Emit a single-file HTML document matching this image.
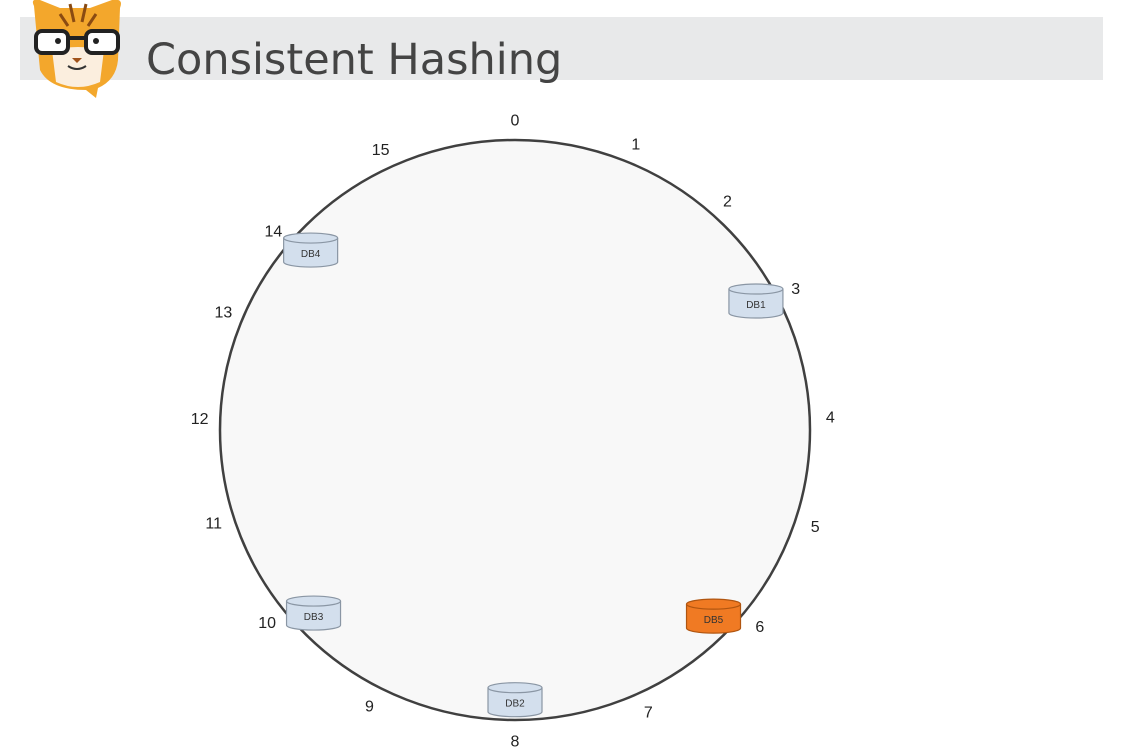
<!DOCTYPE html>
<html><head><meta charset="utf-8"><style>
html,body{margin:0;padding:0;background:#fff;width:1123px;height:755px;overflow:hidden}
</style></head><body>
<svg id="chart" width="1123" height="755" xmlns="http://www.w3.org/2000/svg" font-family="Liberation Sans, sans-serif">
<rect x="20" y="17" width="1083" height="63" fill="#e8e9ea"/>
<g>
<path d="M34 6 Q30 -2 40 0 L60 8 L90 8 L112 0 Q124 -2 120 8 L118 60 Q116 80 98 88 L96 98 L86 90 Q50 90 40 70 Z" fill="#f3a72c"/>
<path d="M52 50 Q78 44 104 50 L100 82 Q78 92 56 82 Z" fill="#fbeede"/>
<path d="M70 4 L74 22 M86 4 L82 22 M60 14 L68 26 M96 14 L88 26" stroke="#8a4b12" stroke-width="3" fill="none"/>
<rect x="36" y="31" width="32" height="22" rx="6" fill="#fff" stroke="#222" stroke-width="4"/>
<rect x="86" y="31" width="32" height="22" rx="6" fill="#fff" stroke="#222" stroke-width="4"/>
<line x1="68" y1="38" x2="86" y2="38" stroke="#222" stroke-width="4"/>
<circle cx="58" cy="41" r="3" fill="#222"/><circle cx="96" cy="41" r="3" fill="#222"/>
<path d="M72 58 L82 58 L77 63 Z" fill="#a0521a"/>
<path d="M68 66 Q77 72 86 66" stroke="#333" stroke-width="2" fill="none"/>
</g>
<text x="146" y="74" font-family="DejaVu Sans, Liberation Sans, sans-serif" font-size="43" fill="#444">Consistent Hashing</text>
<ellipse cx="515" cy="430" rx="295" ry="290" fill="#f8f8f8" stroke="#404040" stroke-width="2.5"/>
<g id="labels"></g>
<g id="dbs"></g>
</svg>
<script>
const ringPositions = [0,1,2,3,4,5,6,7,8,9,10,11,12,13,14,15];
const labelSlots = [0,1,1.88,2.79,3.89,4.8,5.74,6.89,8,9.22,10.3,11.23,12.1,13.0,13.78,14.88];
const dbNames = ["DB1","DB2","DB3","DB4","DB5"];
const dbHashes = [2.73,8,10.1,13.86,5.94];
const dbIsNew = [false,false,false,false,true];
const NS="http://www.w3.org/2000/svg";
const cx=515, cy=430, rx=295, ry=290, slots=16;
function px(h,s){return cx+rx*s*Math.sin(h/slots*2*Math.PI);}
function py(h,s){return cy-ry*s*Math.cos(h/slots*2*Math.PI);}
const lg=document.getElementById('labels');
ringPositions.forEach((p,i)=>{
 const t=document.createElementNS(NS,'text');
 
 
 t.setAttribute('x',px(labelSlots[i],1.07));t.setAttribute('y',py(labelSlots[i],1.07)+6);
 t.setAttribute('text-anchor','middle');t.setAttribute('font-size','16');t.setAttribute('fill','#222');
 t.textContent=p;lg.appendChild(t);
});
const dg=document.getElementById('dbs');
dbNames.forEach((n,i)=>{
 const x=px(dbHashes[i],0.93), y=py(dbHashes[i],0.93);
 const fill=dbIsNew[i]?'#f07a23':'#d3dfed', st=dbIsNew[i]?'#b05510':'#8a96a4';
 const g=document.createElementNS(NS,'g');
 
 
 const w=54,h=34,e=5;
 g.innerHTML=`<path d="M${x-w/2} ${y-h/2+e} L${x-w/2} ${y+h/2-e} A${w/2} ${e} 0 0 0 ${x+w/2} ${y+h/2-e} L${x+w/2} ${y-h/2+e}" fill="${fill}" stroke="${st}" stroke-width="1.2"/>
<ellipse cx="${x}" cy="${y-h/2+e}" rx="${w/2}" ry="${e}" fill="${fill}" stroke="${st}" stroke-width="1.2"/>
<text x="${x}" y="${y+7}" text-anchor="middle" font-size="10" fill="#333">${n}</text>`;
 dg.appendChild(g);
});
</script>
</body></html>
